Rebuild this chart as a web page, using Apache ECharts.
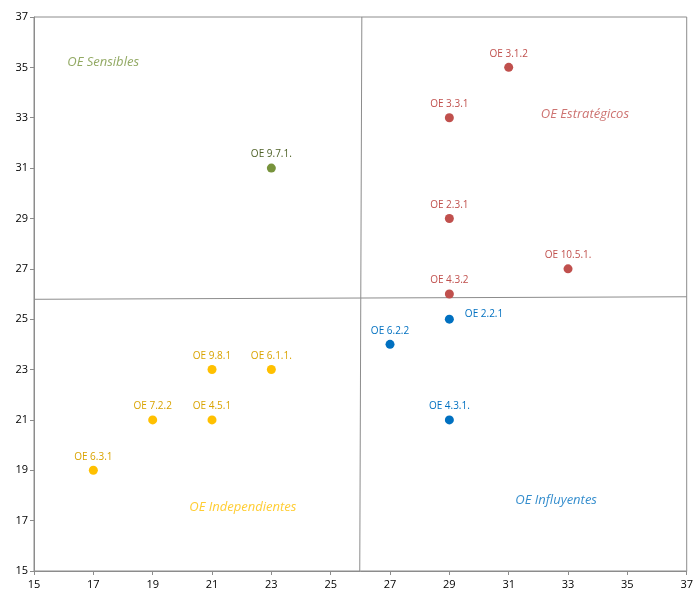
<!DOCTYPE html>
<html>
<head>
<meta charset="utf-8">
<script src="https://cdn.jsdelivr.net/npm/echarts@6/dist/echarts.min.js"></script>
<style>
    html, body { margin: 0; padding: 0; background: #fff; }
    #main { width: 696px; height: 593px; }
</style>
</head>
<body>
<div id="main"></div>
<script>
// puntos por cuadrante
const redNames = ['OE 3.1.2', 'OE 3.3.1', 'OE 2.3.1', 'OE 10.5.1.', 'OE 4.3.2'];
const redX = [31, 29, 29, 33, 29];
const redY = [35, 33, 29, 27, 26];

const blueNames = ['OE 2.2.1', 'OE 6.2.2', 'OE 4.3.1.'];
const blueX = [29, 27, 29];
const blueY = [25, 24, 21];

const greenNames = ['OE 9.7.1.'];
const greenX = [23];
const greenY = [31];

const yellowNames = ['OE 9.8.1', 'OE 6.1.1.', 'OE 7.2.2', 'OE 4.5.1', 'OE 6.3.1'];
const yellowX = [21, 23, 19, 21, 17];
const yellowY = [23, 23, 21, 21, 19];

// textos de los cuadrantes
const quadNames = ['OE Sensibles', 'OE Estratégicos', 'OE Independientes', 'OE Influyentes'];
const quadX = [17.33, 33.57, 22.04, 32.6];
const quadY = [35.2, 33.13, 17.52, 17.8];
const quadColors = ['#77933C', '#C0504D', '#FFC000', '#0070C0'];

// lineas divisorias
const vLineX = [26.05, 25.98];
const vLineY = [37, 15];
const hLineX = [15, 37];
const hLineY = [25.79, 25.89];

function pts(names, xs, ys) {
    return names.map((n, i) => ({ name: n, value: [xs[i], ys[i]] }));
}

function scatter(names, xs, ys, color, labelColor) {
    return {
        type: 'scatter',
        symbolSize: 9,
        data: pts(names, xs, ys),
        itemStyle: { color: color, opacity: 1 },
        label: {
            show: true,
            position: 'top',
            distance: 4,
            formatter: p => p.name,
            color: labelColor,
            fontSize: 10,
            fontFamily: 'Open Sans'
        },
        z: 5
    };
}

const blueSeries = scatter(blueNames, blueX, blueY, '#0070C0', '#0070C0');
blueSeries.data[0].label = { position: 'right', distance: 11, offset: [0, -5] };

let option = {
    animation: false,
    grid: {
        left: 34,
        right: 4,
        top: 17,
        bottom: 22,
        show: true,
        borderColor: '#8c8c8c',
        borderWidth: 1
    },
    xAxis: {
        type: 'value',
        min: 15,
        max: 37,
        interval: 2,
        splitLine: { show: false },
        axisLine: { show: true, onZero: false, lineStyle: { color: '#8c8c8c' } },
        axisTick: { show: true, length: 4, lineStyle: { color: '#8c8c8c' } },
        axisLabel: { color: '#000', fontSize: 11, fontFamily: 'Open Sans', margin: 8 }
    },
    yAxis: {
        type: 'value',
        min: 15,
        max: 37,
        interval: 2,
        splitLine: { show: false },
        axisLine: { show: true, onZero: false, lineStyle: { color: '#8c8c8c' } },
        axisTick: { show: true, length: 4, lineStyle: { color: '#8c8c8c' } },
        axisLabel: { color: '#000', fontSize: 11, fontFamily: 'Open Sans', margin: 6 }
    },
    series: [
        {
            type: 'line',
            data: vLineX.map((x, i) => [x, vLineY[i]]),
            symbol: 'none',
            lineStyle: { color: '#8c8c8c', width: 1 },
            silent: true,
            z: 1
        },
        {
            type: 'line',
            data: hLineX.map((x, i) => [x, hLineY[i]]),
            symbol: 'none',
            lineStyle: { color: '#8c8c8c', width: 1 },
            silent: true,
            z: 1
        },
        scatter(redNames, redX, redY, '#C0504D', '#C0504D'),
        blueSeries,
        scatter(greenNames, greenX, greenY, '#77933C', '#4F6228'),
        scatter(yellowNames, yellowX, yellowY, '#FFC000', '#D9A300'),
        {
            type: 'scatter',
            symbolSize: 0,
            data: quadNames.map((n, i) => ({
                name: n,
                value: [quadX[i], quadY[i]],
                label: { color: quadColors[i] }
            })),
            label: {
                show: true,
                position: 'inside',
                formatter: p => p.name,
                fontSize: 13,
                fontStyle: 'italic',
                fontFamily: 'Open Sans'
            },
            silent: true
        }
    ]
};

var myChart = echarts.init(document.getElementById('main'));
myChart.setOption(option);
</script>
</body>
</html>
